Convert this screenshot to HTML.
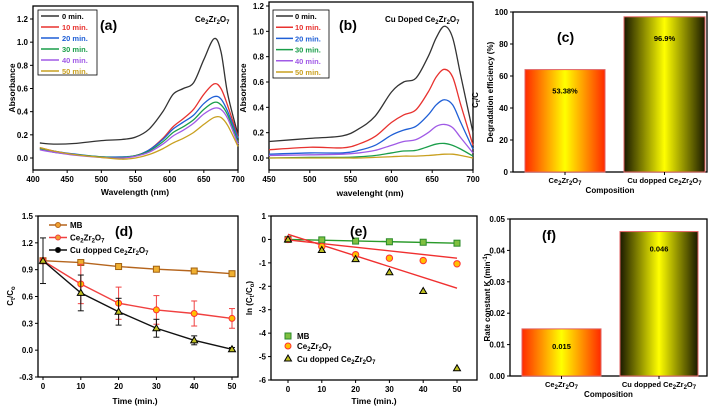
<!DOCTYPE html>
<html><head><meta charset="utf-8"><style>
html,body{margin:0;padding:0;background:#fff}
svg{display:block;font-family:"Liberation Sans",sans-serif;font-weight:bold}
</style></head><body>
<svg id="fig" width="719" height="409" viewBox="0 0 719 409" xmlns="http://www.w3.org/2000/svg">
<defs>
<linearGradient id="gRed" x1="0" x2="1" y1="0" y2="0"><stop offset="0" stop-color="#ff2a00"/><stop offset="0.5" stop-color="#ffff00"/><stop offset="1" stop-color="#ff2a00"/></linearGradient>
<linearGradient id="gDark" x1="0" x2="1" y1="0" y2="0"><stop offset="0" stop-color="#1a1a00"/><stop offset="0.5" stop-color="#ffff00"/><stop offset="1" stop-color="#1a1a00"/></linearGradient>
</defs>
</svg>
<script>
// ---- data ----
const wlA = [410,430,460,500,530,550,570,590,605,620,635,650,665,675,685,700];
const a0  = [0.13,0.12,0.125,0.15,0.16,0.18,0.25,0.40,0.55,0.60,0.65,0.85,1.03,0.92,0.55,0.20];
const a10 = [0.09,0.06,0.03,0.01,0.005,0.02,0.07,0.17,0.27,0.34,0.42,0.55,0.64,0.60,0.45,0.18];
const a20 = [0.08,0.06,0.035,0.01,0.01,0.02,0.07,0.16,0.25,0.31,0.37,0.47,0.53,0.51,0.40,0.17];
const a30 = [0.08,0.05,0.03,0.01,0.005,0.02,0.06,0.14,0.22,0.27,0.33,0.42,0.48,0.46,0.37,0.14];
const a40 = [0.07,0.05,0.025,0.005,0.0,0.015,0.05,0.12,0.19,0.24,0.30,0.38,0.43,0.42,0.34,0.12];
const a50 = [0.09,0.06,0.03,0.005,-0.01,0.0,0.03,0.08,0.13,0.17,0.22,0.29,0.35,0.35,0.28,0.10];
const wlB = [450,500,540,560,580,600,615,630,645,655,665,675,685,700];
const b0  = [0.13,0.155,0.175,0.23,0.33,0.52,0.60,0.63,0.80,0.95,1.04,0.95,0.65,0.20];
const b10 = [0.065,0.085,0.08,0.11,0.17,0.28,0.34,0.38,0.52,0.64,0.70,0.64,0.42,0.10];
const b20 = [0.03,0.04,0.04,0.06,0.10,0.18,0.22,0.25,0.34,0.42,0.46,0.42,0.28,0.07];
const b30 = [0.0,0.005,0.005,0.01,0.02,0.04,0.055,0.06,0.09,0.11,0.115,0.10,0.07,0.015];
const b40 = [0.02,0.025,0.03,0.04,0.06,0.10,0.13,0.145,0.20,0.25,0.265,0.24,0.16,0.04];
const b50 = [0.0,0.0,0.0,0.0,0.005,0.01,0.015,0.015,0.02,0.025,0.03,0.03,0.02,0.0];
const seriesNames = ["0 min.","10 min.","20 min.","30 min.","40 min.","50 min."];
const barCats = ["Ce2Zr2O7","Cu dopped Ce2Zr2O7"];
const effValues = [64, 97];
const effLabels = ["53.38%","96.9%"];
const rateValues = [0.015, 0.046];
const rateLabels = ["0.015","0.046"];
const times = [0,10,20,30,40,50];
const dMB = [1,0.98,0.935,0.905,0.885,0.855];
const dCe = [1,0.74,0.525,0.45,0.41,0.355];
const dCeErr = [0.0,0.22,0.18,0.16,0.14,0.11];
const dCu = [1,0.64,0.43,0.245,0.11,0.01];
const dCuErr = [0.255,0.2,0.15,0.1,0.05,0.02];
const eMB = [0,-0.02,-0.07,-0.1,-0.12,-0.16];
const eCe = [0,-0.3,-0.65,-0.8,-0.9,-1.04];
const eCu = [0,-0.45,-0.84,-1.4,-2.2,-5.5];
const fitMB = [0,-0.16];
const fitCe = [-0.02,-0.8];
const fitCu = [0.22,-2.08];
const ticksA_x = [400,450,500,550,600,650,700];
const ticksA_y = [0,0.2,0.4,0.6,0.8,1.0,1.2];
const ticksB_x = [450,500,550,600,650,700];
const ticksC_y = [0,20,40,60,80,100];
const ticksD_y = [-0.3,0,0.3,0.6,0.9,1.2,1.5];
const ticksE_y = [-6,-5,-4,-3,-2,-1,0,1];
const ticksF_y = [0,0.01,0.02,0.03,0.04,0.05];

const NS="http://www.w3.org/2000/svg";
const svg=document.getElementById('fig');
const colors=["#333333","#e8322f","#1f5fd6","#1a9e4a","#a05ae6","#c9a020"];
function mk(tag,at,p){const e=document.createElementNS(NS,tag);for(const k in at)e.setAttribute(k,at[k]);(p||svg).appendChild(e);return e;}
function sc(d0,d1,r0,r1){return v=>r0+(v-d0)*(r1-r0)/(d1-d0);}
function smooth(pts){let d="M"+pts[0][0]+","+pts[0][1];for(let i=0;i<pts.length-1;i++){const p0=pts[Math.max(i-1,0)],p1=pts[i],p2=pts[i+1],p3=pts[Math.min(i+2,pts.length-1)];
d+=" C"+(p1[0]+(p2[0]-p0[0])/6)+","+(p1[1]+(p2[1]-p0[1])/6)+" "+(p2[0]-(p3[0]-p1[0])/6)+","+(p2[1]-(p3[1]-p1[1])/6)+" "+p2[0]+","+p2[1];}return d;}
function txt(x,y,s,size,anchor,fill,p){const t=mk('text',{x:x,y:y,'font-size':size,'text-anchor':anchor||'middle',fill:fill||'#000'},p);t.innerHTML=s;return t;}
function box(name,x0,y0,x1,y1){const g=mk('g',{});

const r=mk('rect',{x:x0,y:y0,width:x1-x0,height:y1-y0,fill:'none',stroke:'#000','stroke-width':1.3},g);


return g;}
function yAxis(g,ticks,ys,x0,fmt){const ax=mk('g',{},g);

ticks.forEach(v=>{mk('line',{x1:x0-3,x2:x0,y1:ys(v),y2:ys(v),stroke:'#000'},ax);txt(x0-5,ys(v)+3,fmt(v),8,'end','#000',ax);});}
function xAxis(g,ticks,xs,y0,fmt){const ax=mk('g',{},g);

ticks.forEach(v=>{mk('line',{x1:xs(v),x2:xs(v),y1:y0,y2:y0+3,stroke:'#000'},ax);txt(xs(v),y0+12,fmt(v),8,'middle','#000',ax);});}
const CE='Ce<tspan font-size="6" dy="2">2</tspan><tspan dy="-2">Zr</tspan><tspan font-size="6" dy="2">2</tspan><tspan dy="-2">O</tspan><tspan font-size="6" dy="2">7</tspan>';

// ---- Panel a ----
{const xs=sc(400,700,33,238), ys=sc(0,1.2,158,19);
const g=box('panel-a',33,6,238,170);
yAxis(g,ticksA_y,ys,33,v=>v.toFixed(1));xAxis(g,ticksA_x,xs,170,v=>v);
[a0,a10,a20,a30,a40,a50].forEach((s,i)=>{const p=mk('path',{d:smooth(wlA.map((w,j)=>[xs(w),ys(s[j])])),fill:'none',stroke:colors[i],'stroke-width':1.3},g);

});
const lg=mk('g',{},g);

mk('rect',{x:38,y:10,width:59,height:65,fill:'#fff',stroke:'#000','stroke-width':0.8},lg);
seriesNames.forEach((n,i)=>{const y=16+i*11;mk('line',{x1:41,x2:59,y1:y,y2:y,stroke:colors[i],'stroke-width':1.5},lg);txt(62,y+3,n,7.5,'start',i?colors[i]:'#000',lg);});
txt(100,30,'(a)',14,'start','#000',g);txt(195,22,CE,8,'start','#000',g);
const yl=txt(13,90,'Absorbance',8.5,'middle','#000',g);yl.setAttribute('transform','rotate(-90 13 88)');
txt(135,195,'Wavelength (nm)',8.5,'middle','#000',g);}

// ---- Panel b ----
{const xs=sc(450,700,269,473), ys=sc(0,1.2,158,6);
const g=box('panel-b',269,2,473,170);
yAxis(g,ticksA_y,ys,269,v=>v.toFixed(1));xAxis(g,ticksB_x,xs,170,v=>v);
[b0,b10,b20,b30,b40,b50].forEach((s,i)=>{const p=mk('path',{d:smooth(wlB.map((w,j)=>[xs(w),ys(s[j])])),fill:'none',stroke:colors[i],'stroke-width':1.3},g);

});
const lg=mk('g',{},g);

mk('rect',{x:273,y:10,width:56,height:68,fill:'#fff',stroke:'#000','stroke-width':0.8},lg);
seriesNames.forEach((n,i)=>{const y=16+i*11.2;mk('line',{x1:276,x2:293,y1:y,y2:y,stroke:colors[i],'stroke-width':1.5},lg);txt(295,y+3,n,7.5,'start',i?colors[i]:'#000',lg);});
txt(339,30,'(b)',14,'start','#000',g);txt(385,22,'Cu Doped '+CE,8,'start','#000',g);
const yl=txt(244,90,'Absorbance',8.5,'middle','#000',g);yl.setAttribute('transform','rotate(-90 244 88)');
txt(370,196,'wavelenght (nm)',8.5,'middle','#000',g);}

// ---- bar panel helper ----
function bars(name,vals,labels,ymax,ticks,fmt,x0,y0,x1,y1,barX,labelY,ylab,title,tx,ty){
const ys=sc(0,ymax,y1,y0);const g=box(name,x0,y0,x1,y1);
yAxis(g,ticks,ys,x0,fmt);
vals.forEach((v,i)=>{const b=mk('rect',{x:barX[i][0],y:ys(v),width:barX[i][1]-barX[i][0],height:y1-ys(v),fill:i?'url(#gDark)':'url(#gRed)',stroke:'#e06060','stroke-width':1},g);


const c=(barX[i][0]+barX[i][1])/2;
txt(c,ys(v)+labelY,labels[i],7.5,'middle','#000',g);
mk('line',{x1:c,x2:c,y1:y1,y2:y1+3,stroke:'#000'},g);
txt(c,y1+11,i?'Cu dopped '+CE:CE,7.5,'middle','#000',g);});
txt((x0+x1)/2,y1+21,'Composition',8,'middle','#000',g);
const yl=txt(x0-20,(y0+y1)/2,ylab,8,'middle','#000',g);yl.setAttribute('transform','rotate(-90 '+(x0-20)+' '+(y0+y1)/2+')');
txt(tx,ty,title,14,'start','#000',g);}
bars('panel-c',effValues,effLabels,100,ticksC_y,v=>v,513,12,707,172,[[525,605],[624,705]],24,'Degradation efficiency (%)','(c)',557,42);
{const t=txt(478,100,'C<tspan font-size="6" dy="2">t</tspan><tspan dy="-2">/C</tspan>',8,'middle','#000');t.setAttribute('transform','rotate(-90 478 100)');}
bars('panel-f',rateValues,rateLabels,0.05,ticksF_y,v=>v.toFixed(2),510,219,707,376,[[522,601],[620,698]],20,'Rate constant K (min<tspan font-size="6" dy="-3">-1</tspan><tspan dy="3">)</tspan>','(f)',542,240);

// ---- Panel d ----
{const xs=sc(0,50,43,232), ys=sc(-0.3,1.5,377,216);
const g=box('panel-d',38,216,238,377);
yAxis(g,ticksD_y,ys,38,v=>v.toFixed(1));xAxis(g,times,xs,377,v=>v);
function series(vals,err,col,mark,nm){const sg=mk('g',{},g);

mk('polyline',{points:times.map((t,i)=>xs(t)+','+ys(vals[i])).join(' '),fill:'none',stroke:col,'stroke-width':1.4},sg);
times.forEach((t,i)=>{const x=xs(t),y=ys(vals[i]);
if(err&&err[i]){mk('line',{x1:x,x2:x,y1:ys(vals[i]+err[i]),y2:ys(vals[i]-err[i]),stroke:col},sg);
[vals[i]+err[i],vals[i]-err[i]].forEach(v=>mk('line',{x1:x-3,x2:x+3,y1:ys(v),y2:ys(v),stroke:col},sg));}
if(mark==='sq')mk('rect',{x:x-3,y:y-3,width:6,height:6,fill:'#f0b030',stroke:'#a06010'},sg);
else if(mark==='ci')mk('circle',{cx:x,cy:y,r:3,fill:'#ffc000',stroke:'#ff3030'},sg);
else mk('path',{d:`M${x},${y-3.5}L${x+3.5},${y+2.5}L${x-3.5},${y+2.5}Z`,fill:'#c0c020',stroke:'#000'},sg);});}
series(dMB,null,'#b5651d','sq','series-mb');
series(dCe,dCeErr,'#f04040','ci','series-ce2zr2o7');
series(dCu,dCuErr,'#111','tr','series-cu-doped');
const lg=mk('g',{},g);

[['MB','#b5651d'],[CE,'#f04040'],['Cu dopped '+CE,'#111']].forEach((e,i)=>{const y=225+i*12.5;mk('line',{x1:49,x2:67,y1:y,y2:y,stroke:e[1],'stroke-width':1.4},lg);mk('circle',{cx:58,cy:y,r:2.5,fill:i==2?'#000':'#f0a030',stroke:e[1]},lg);txt(70,y+3,e[0],8,'start','#000',lg);});
txt(115,236,'(d)',14,'start','#000',g);
const yl=txt(13,296,'C<tspan font-size="6" dy="2">t</tspan><tspan dy="-2">/C</tspan><tspan font-size="6" dy="2">o</tspan>',8,'middle','#000',g);yl.setAttribute('transform','rotate(-90 13 296)');
txt(135,404,'Time (min.)',8.5,'middle','#000',g);}

// ---- Panel e ----
{const xs=sc(0,50,288,457), ys=sc(-6,1,380,216);
const g=box('panel-e',271,216,477,380);
yAxis(g,ticksE_y,ys,271,v=>v);xAxis(g,times,xs,380,v=>v);
[[fitMB,'#2a9a2a'],[fitCe,'#f03030'],[fitCu,'#f03030']].forEach((f,i)=>{const l=mk('line',{x1:xs(0),x2:xs(50),y1:ys(f[0][0]),y2:ys(f[0][1]),stroke:f[1],'stroke-width':1.4},g);

});
times.forEach((t,i)=>{const x=xs(t);
let y=ys(eMB[i]);mk('rect',{x:x-3,y:y-3,width:6,height:6,fill:'#80c040',stroke:'#2a8a2a'},g);
y=ys(eCe[i]);mk('circle',{cx:x,cy:y,r:3.2,fill:'#ffc000',stroke:'#ff3030'},g);
y=ys(eCu[i]);mk('path',{d:`M${x},${y-3.5}L${x+3.5},${y+2.5}L${x-3.5},${y+2.5}Z`,fill:'#c0c020',stroke:'#000'},g);});
const lg=mk('g',{},g);

mk('rect',{x:285,y:333,width:6,height:6,fill:'#80c040',stroke:'#2a8a2a'},lg);txt(297,339,'MB',8,'start','#000',lg);
mk('circle',{cx:288,cy:346,r:3,fill:'#ffc000',stroke:'#ff3030'},lg);txt(297,349,CE,8,'start','#000',lg);
mk('path',{d:'M288,355L291.5,361L284.5,361Z',fill:'#c0c020',stroke:'#000'},lg);txt(297,362,'Cu dopped '+CE,8,'start','#000',lg);
txt(350,236,'(e)',14,'start','#000',g);
const yl=txt(252,298,'ln (C<tspan font-size="6" dy="2">t</tspan><tspan dy="-2">/C</tspan><tspan font-size="6" dy="2">o</tspan><tspan dy="-2">)</tspan>',8,'middle','#000',g);yl.setAttribute('transform','rotate(-90 252 298)');
txt(374,404,'Time (min.)',8.5,'middle','#000',g);}
</script>
</body></html>
